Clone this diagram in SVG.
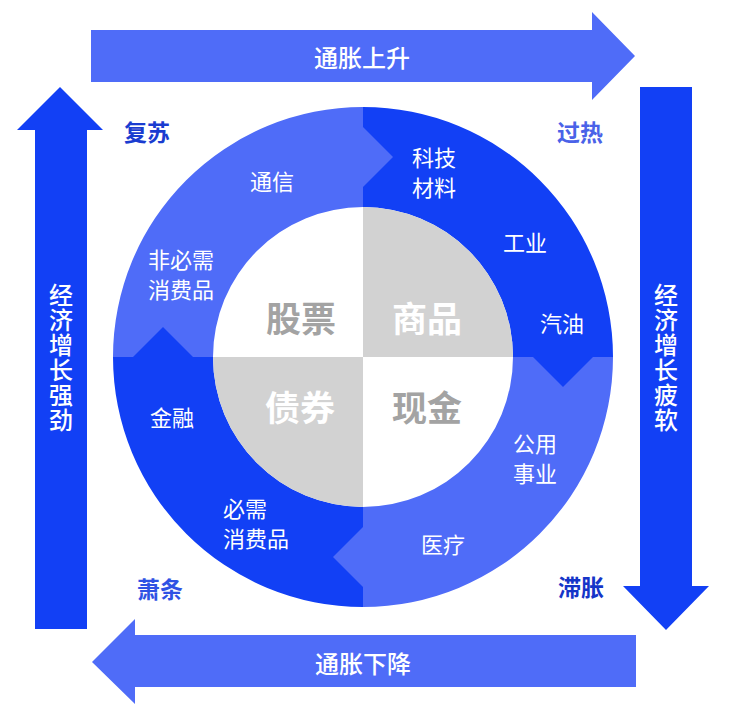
<svg xmlns="http://www.w3.org/2000/svg" width="734" height="718" viewBox="0 0 734 718">
<style>
text{font-family:"Noto Sans CJK SC","Noto Sans",sans-serif;text-anchor:middle;dominant-baseline:central}
.ring{font-size:22px;fill:#ffffff}
.ringL{font-size:22px;fill:#ffffff;text-anchor:start}
.arr{font-size:24px;fill:#ffffff;font-weight:500}
.vert{font-size:24px;fill:#ffffff;font-weight:500;writing-mode:vertical-rl;letter-spacing:1px}
.inner{font-size:35px;font-weight:700}
.corner{font-size:23px;font-weight:700}
.light{fill:#4f6cf8}
.dark{fill:#1240f5}
.gray{fill:#d2d2d2}
</style>
<rect width="734" height="718" fill="#ffffff"/>
<g id="connectors">
  <g id="arrow-top">
    <polygon class="light" points="91,30 592,30 592,12 635,56 592,100 592,82 91,82"/>
    <text class="arr" x="362" y="56">通胀上升</text>
  </g>
  <g id="arrow-right">
    <polygon class="dark" points="640,87 692,87 692,586 709,586 666,630 623,586 640,586"/>
    <text class="vert" x="666" y="358">经济增长疲软</text>
  </g>
  <g id="arrow-bottom">
    <polygon class="light" points="636,635 636,687 135,687 135,704 92,662 135,619 135,635"/>
    <text class="arr" x="363" y="662">通胀下降</text>
  </g>
  <g id="arrow-left">
    <polygon class="dark" points="35,629 35,130 17,130 60,87 103,130 87,130 87,629"/>
    <text class="vert" x="61" y="358">经济增长强劲</text>
  </g>
</g>
<g id="ring">
  <path id="seg-tl" class="light" d="M113,357 A250,250 0 0 1 363,107 L363,207 A150,150 0 0 0 213,357 Z"/>
  <path id="seg-tr" class="dark" d="M363,107 A250,250 0 0 1 613,357 L513,357 A150,150 0 0 0 363,207 Z"/>
  <path id="seg-br" class="light" d="M613,357 A250,250 0 0 1 363,607 L363,507 A150,150 0 0 0 513,357 Z"/>
  <path id="seg-bl" class="dark" d="M363,607 A250,250 0 0 1 113,357 L213,357 A150,150 0 0 0 363,507 Z"/>
  <polygon class="light" points="363,127 393,157 363,187"/>
  <polygon class="dark" points="533,357 563,387 593,357"/>
  <polygon class="light" points="363,527 333,557 363,587"/>
  <polygon class="dark" points="193,357 163,327 133,357"/>
</g>
<g id="inner">
  <path class="gray" d="M363,357 L363,207 A150,150 0 0 1 513,357 Z"/>
  <path class="gray" d="M363,357 L213,357 A150,150 0 0 0 363,507 Z"/>
</g>
<g id="node-gupiao"><text class="inner" x="301" y="316" fill="#a3a3a3">股票</text></g>
<g id="node-shangpin"><text class="inner" x="427" y="316" fill="#ffffff">商品</text></g>
<g id="node-zhaiquan"><text class="inner" x="300" y="405" fill="#ffffff">债券</text></g>
<g id="node-xianjin"><text class="inner" x="427" y="405" fill="#a3a3a3">现金</text></g>
<g id="node-tongxin"><text class="ring" x="272" y="180">通信</text></g>
<g id="node-feibixu"><text class="ring" x="181"><tspan x="181" y="258">非必需</tspan><tspan x="181" y="288">消费品</tspan></text></g>
<g id="node-keji"><text class="ring" x="434"><tspan x="434" y="156">科技</tspan><tspan x="434" y="186">材料</tspan></text></g>
<g id="node-gongye"><text class="ring" x="525" y="241">工业</text></g>
<g id="node-qiyou"><text class="ring" x="562" y="322">汽油</text></g>
<g id="node-gongyong"><text class="ring" x="535"><tspan x="535" y="442">公用</tspan><tspan x="535" y="472">事业</tspan></text></g>
<g id="node-yiliao"><text class="ring" x="443" y="543">医疗</text></g>
<g id="node-bixu"><text class="ringL" x="223"><tspan x="223" y="507">必需</tspan><tspan x="223" y="537">消费品</tspan></text></g>
<g id="node-jinrong"><text class="ring" x="172" y="416">金融</text></g>
<g id="label-fusu"><text class="corner" x="147" y="131" fill="#1a3cd0">复苏</text></g>
<g id="label-guore"><text class="corner" x="580" y="131" fill="#4a62e8">过热</text></g>
<g id="label-xiaotiao"><text class="corner" x="160" y="588" fill="#2f52e4">萧条</text></g>
<g id="label-zhizhang"><text class="corner" x="581" y="586" fill="#1535c8">滞胀</text></g>
</svg>
